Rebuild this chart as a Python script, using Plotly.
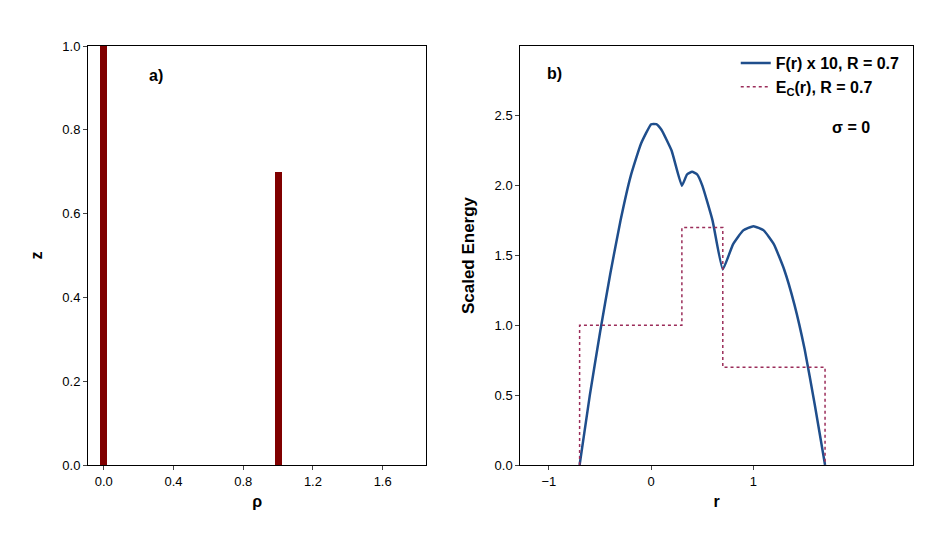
import plotly.graph_objects as go
from plotly.subplots import make_subplots

# panel a) distribution
rho = [0.0, 1.0]
z = [1.0, 0.7]

# panel b) scaled energy
r_f = [-0.7, -0.6, -0.5, -0.4, -0.3, -0.2, -0.1, 0.0, 0.05, 0.1, 0.2, 0.3, 0.35, 0.4, 0.45,
       0.5, 0.6, 0.7, 0.8, 0.9, 1.0, 1.1, 1.2, 1.3, 1.4, 1.5, 1.6, 1.7]
f_r = [0.0, 0.5, 0.95, 1.37, 1.75, 2.07, 2.3, 2.44, 2.44, 2.4, 2.25, 2.0, 2.08, 2.1, 2.08,
       2.0, 1.75, 1.4, 1.58, 1.68, 1.71, 1.68, 1.58, 1.4, 1.15, 0.83, 0.43, 0.0]
r_ec = [-0.7, -0.7, 0.3, 0.3, 0.7, 0.7, 1.7, 1.7]
ec_r = [0.0, 1.0, 1.0, 1.7, 1.7, 0.7, 0.7, 0.0]

font = "Liberation Sans"

fig = make_subplots(rows=1, cols=2)

fig.add_trace(go.Bar(x=rho, y=z, width=0.04, marker_color="#800000", marker_line_width=0,
                     showlegend=False), row=1, col=1)

fig.add_trace(go.Scatter(x=r_f, y=f_r, mode="lines", line=dict(color="#1f4e8c", width=2.5, shape="spline", smoothing=0.4),
                         name="<b>F(r) x 10, R = 0.7</b>"), row=1, col=2)
fig.add_trace(go.Scatter(x=r_ec, y=ec_r, mode="lines", line=dict(color="#9b2d5a", width=1.5, dash="dot"),
                         name="<b>E<sub>C</sub>(r), R = 0.7</b>"), row=1, col=2)

axis_style = dict(showline=True, mirror=True, linecolor="black", linewidth=1, showgrid=False,
                  zeroline=False, ticks="outside", ticklen=4, tickfont=dict(size=13, family=font))

fig.update_xaxes(axis_style)
fig.update_yaxes(axis_style)

fig.update_xaxes(domain=[0, 0.41], range=[-0.09, 1.85], tickvals=[0, 0.4, 0.8, 1.2, 1.6], tickformat=".1f",
                 title=dict(text="<b>ρ</b>", font=dict(size=16, family=font), standoff=8), row=1, col=1)
fig.update_yaxes(range=[0, 1.0], dtick=0.2, tickformat=".1f",
                 title=dict(text="<b>z</b>", font=dict(size=16, family=font)), row=1, col=1)
fig.update_xaxes(domain=[0.524, 1.0], range=[-1.28, 2.56], tickvals=[-1, 0, 1],
                 title=dict(text="<b>r</b>", font=dict(size=16, family=font), standoff=8), row=1, col=2)
fig.update_yaxes(range=[0, 3.0], tickvals=[0, 0.5, 1.0, 1.5, 2.0, 2.5], tickformat=".1f",
                 title=dict(text="<b>Scaled Energy</b>", font=dict(size=17, family=font)), row=1, col=2)

fig.add_annotation(x=0.3, y=0.93, xref="x", yref="y", text="<b>a)</b>", showarrow=False,
                   font=dict(size=16, family=font))
fig.add_annotation(x=-0.95, y=2.8, xref="x2", yref="y2", text="<b>b)</b>", showarrow=False,
                   font=dict(size=16, family=font))
fig.add_annotation(x=1.95, y=2.42, xref="x2", yref="y2", text="<b>σ = 0</b>", showarrow=False,
                   font=dict(size=16, family=font))

fig.update_layout(
    width=941, height=534,
    paper_bgcolor="white", plot_bgcolor="white",
    margin=dict(l=80, r=36, t=38, b=77),
    bargap=0,
    legend=dict(x=0.99, y=1.0, xanchor="right", yanchor="top", bgcolor="rgba(0,0,0,0)",
                font=dict(size=16, family=font), tracegroupgap=0),
    font=dict(family=font, color="black"),
)

fig.write_html("out.html")
